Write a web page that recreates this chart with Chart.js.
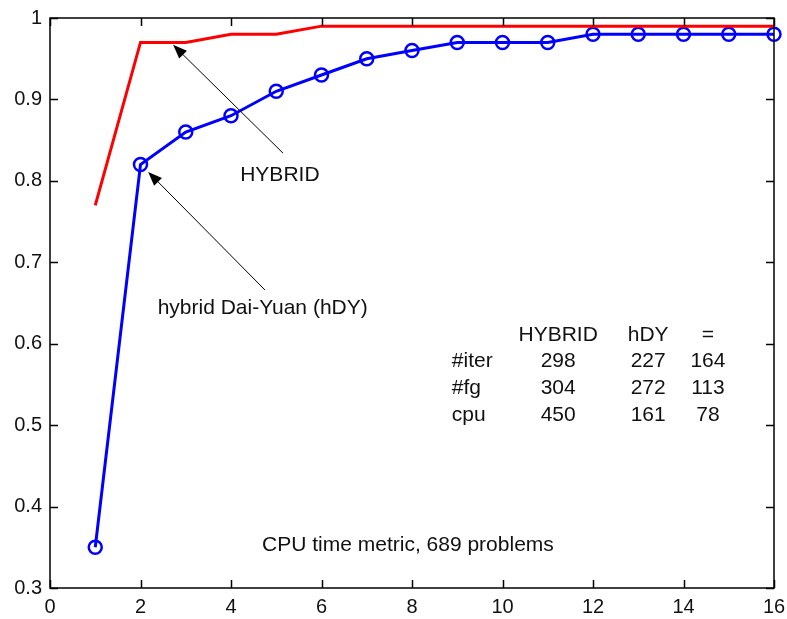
<!DOCTYPE html>
<html>
<head>
<meta charset="utf-8">
<script src="https://cdn.jsdelivr.net/npm/chart.js@4.4.1/dist/chart.umd.min.js"></script>
<style>
html,body{margin:0;padding:0;background:#fff;}
#wrap{width:787px;height:619px;position:relative;}
</style>
</head>
<body>
<div id="wrap"><canvas id="c" width="787" height="619"></canvas></div>
<script>
// ---- data ----
const xValues = [1,2,3,4,5,6,7,8,9,10,11,12,13,14,15,16];
const hybridValues = [0.77,0.97,0.97,0.98,0.98,0.99,0.99,0.99,0.99,0.99,0.99,0.99,0.99,0.99,0.99,0.99];
const hdyValues = [0.35,0.82,0.86,0.88,0.91,0.93,0.95,0.96,0.97,0.97,0.97,0.98,0.98,0.98,0.98,0.98];
const xTicks = [0,2,4,6,8,10,12,14,16];
const yTicks = [0.3,0.4,0.5,0.6,0.7,0.8,0.9,1];
const tableHeader = ['HYBRID','hDY','='];
const tableRowLabels = ['#iter','#fg','cpu'];
const tableHybrid = [298,304,450];
const tableHdy = [227,272,161];
const tableEqual = [164,113,78];
const captionText = 'CPU time metric, 689 problems';
const hybridLabel = 'HYBRID';
const hdyLabel = 'hybrid Dai-Yuan (hDY)';

const FONT = '"Liberation Sans", Arial, sans-serif';
const FS = 20;   // tick labels
const AFS = 21;  // annotation text

function pts(ys){ return xValues.map((x,i)=>({x:x,y:ys[i]})); }

const annot = {
  id:'annot',
  afterDatasetsDraw(chart){
    const ctx = chart.ctx, xs = chart.scales.x, ys = chart.scales.y;
    const P = (x,y)=>[xs.getPixelForValue(x), ys.getPixelForValue(y)];
    const a = chart.chartArea;
    ctx.save();
    ctx.strokeStyle = '#000'; ctx.lineWidth = 1.5;
    ctx.strokeRect(a.left, a.top, a.right-a.left, a.bottom-a.top);
    const tl = 8;
    ctx.beginPath();
    xTicks.forEach(v=>{
      const px = Math.round(xs.getPixelForValue(v))+0.5;
      ctx.moveTo(px,a.bottom); ctx.lineTo(px,a.bottom-tl);
      ctx.moveTo(px,a.top); ctx.lineTo(px,a.top+tl);
    });
    yTicks.forEach(v=>{
      const py = Math.round(ys.getPixelForValue(v))+0.5;
      ctx.moveTo(a.left,py); ctx.lineTo(a.left+tl,py);
      ctx.moveTo(a.right,py); ctx.lineTo(a.right-tl,py);
    });
    ctx.stroke();

    function arrow(x0,y0,x1,y1){
      const [ax,ay]=P(x0,y0), [bx,by]=P(x1,y1);
      const ang = Math.atan2(by-ay, bx-ax);
      const L=14, W=5.5;
      ctx.strokeStyle='#000'; ctx.lineWidth=1;
      ctx.beginPath(); ctx.moveTo(ax,ay); ctx.lineTo(bx-Math.cos(ang)*L*0.8,by-Math.sin(ang)*L*0.8); ctx.stroke();
      ctx.fillStyle='#000';
      ctx.beginPath();
      ctx.moveTo(bx,by);
      ctx.lineTo(bx-Math.cos(ang)*L - Math.sin(ang)*W, by-Math.sin(ang)*L + Math.cos(ang)*W);
      ctx.lineTo(bx-Math.cos(ang)*L + Math.sin(ang)*W, by-Math.sin(ang)*L - Math.cos(ang)*W);
      ctx.closePath(); ctx.fill();
    }
    arrow(5.15,0.834,2.72,0.967);
    arrow(4.75,0.666,2.17,0.811);

    ctx.fillStyle='#111';
    ctx.font = AFS+'px '+FONT;
    ctx.textBaseline='middle';
    function text(t,x,y,align){
      const [px,py]=P(x,y); ctx.textAlign=align||'center'; ctx.fillText(t,px,py);
    }
    text(hybridLabel,5.08,0.807);
    text(hdyLabel,4.70,0.644);
    text(captionText,7.91,0.353);
    const colX=[11.23,13.22,14.54];
    const rowY=[0.578,0.545,0.512];
    tableHeader.forEach((h,i)=>text(h,colX[i],0.610));
    tableRowLabels.forEach((l,r)=>{
      text(l,8.88,rowY[r],'left');
      text(String(tableHybrid[r]),colX[0],rowY[r]);
      text(String(tableHdy[r]),colX[1],rowY[r]);
      text(String(tableEqual[r]),colX[2],rowY[r]);
    });
    ctx.restore();
  }
};

const chart = new Chart(document.getElementById('c'),{
  type:'line',
  data:{datasets:[
    {label:'HYBRID',data:pts(hybridValues),borderColor:'#ff0000',borderWidth:3,pointRadius:0,tension:0,fill:false},
    {label:'hDY',data:pts(hdyValues),borderColor:'#0000ff',borderWidth:3,pointRadius:6.5,pointBorderWidth:2.5,pointBorderColor:'#0000ff',pointBackgroundColor:'rgba(0,0,0,0)',pointStyle:'circle',tension:0,fill:false,clip:false}
  ]},
  options:{
    responsive:false,animation:false,
    layout:{autoPadding:false,padding:{top:18,right:13,left:0,bottom:0}},
    plugins:{legend:{display:false},tooltip:{enabled:false}},
    scales:{
      x:{type:'linear',min:0,max:16,
        afterBuildTicks(s){ s.ticks = xTicks.map(v=>({value:v})); },
        afterFit(s){ s.height = 31; s.paddingLeft = 0; s.paddingRight = 0; },
        grid:{display:false,drawTicks:false},border:{display:false},
        ticks:{color:'#111',font:{family:FONT,size:FS},padding:7,maxRotation:0,autoSkip:false,callback:v=>String(v)}
      },
      y:{type:'linear',min:0.3,max:1,
        afterBuildTicks(s){ s.ticks = yTicks.map(v=>({value:v})); },
        afterFit(s){ s.width = 50; s.paddingTop = 0; s.paddingBottom = 0; },
        grid:{display:false,drawTicks:false},border:{display:false},
        ticks:{color:'#111',font:{family:FONT,size:FS},padding:8,autoSkip:false,callback:v=>String(Math.round(v*10)/10)}
      }
    }
  },
  plugins:[annot]
});
</script>
</body>
</html>
